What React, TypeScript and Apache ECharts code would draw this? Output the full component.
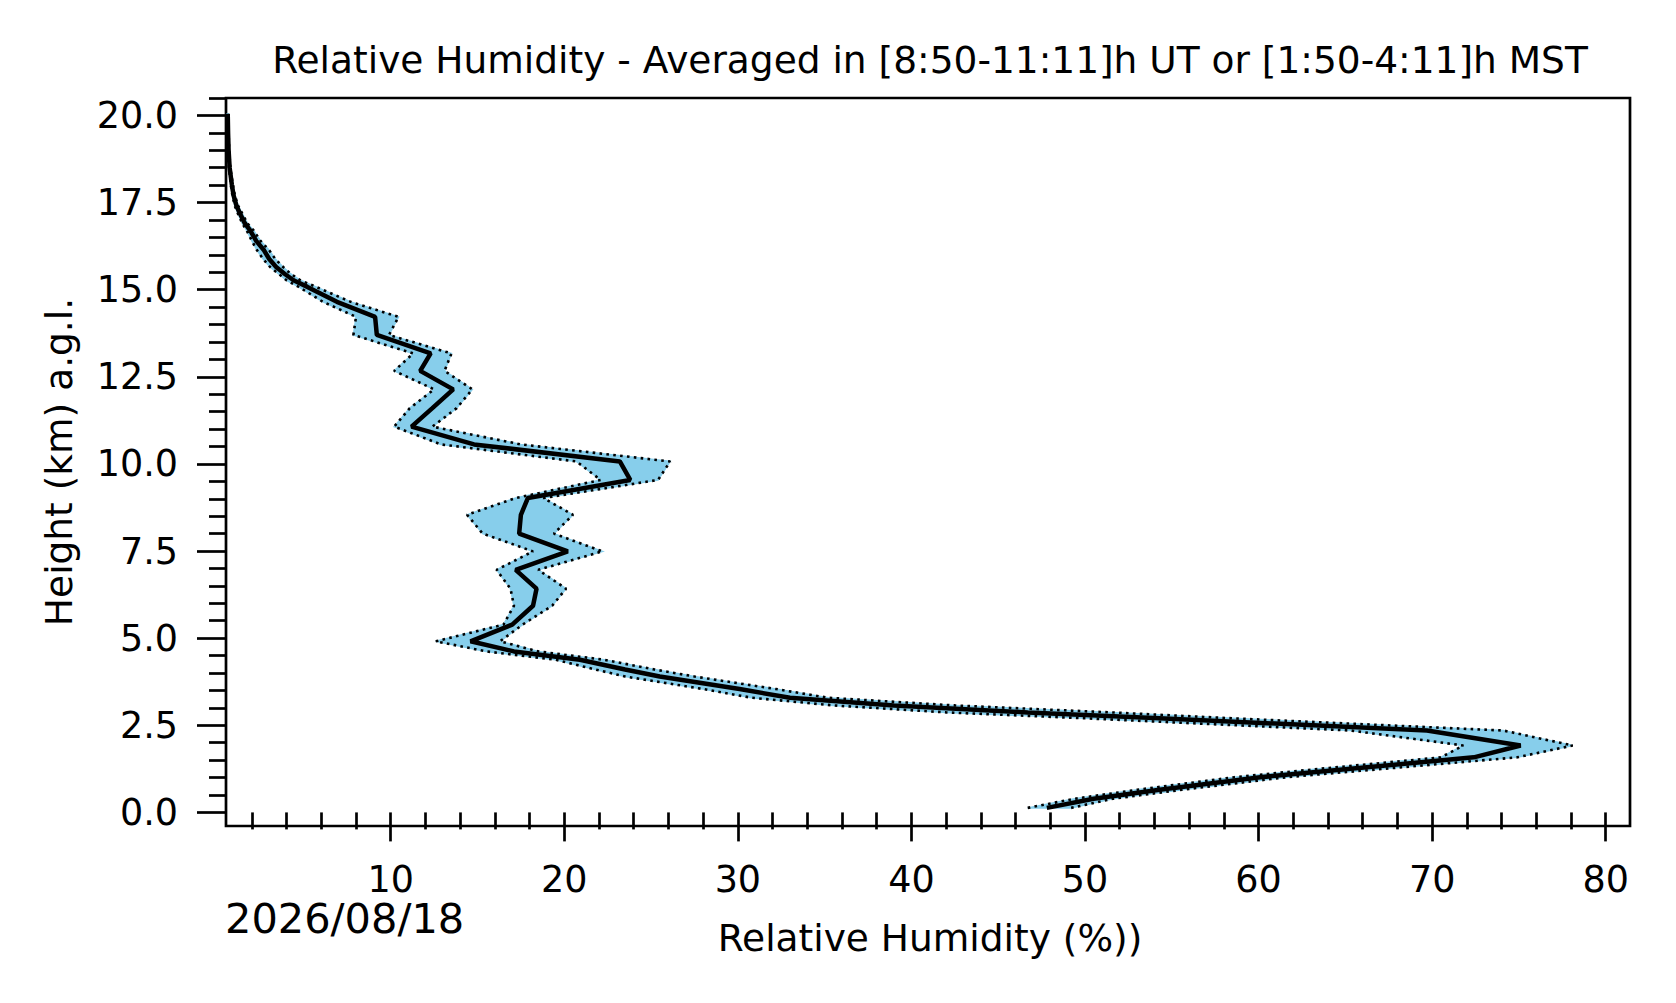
import React, { useEffect, useRef } from "react";
import * as echarts from "echarts";

// Height levels (km a.g.l.)
const heights = [
  0.13, 0.39, 0.65, 1.01, 1.25, 1.58, 1.92, 2.35, 2.7, 2.87, 3.07, 3.29, 3.54, 3.9, 4.1, 4.38, 4.62, 4.91,
  5.39, 5.93, 6.42, 6.96, 7.49, 8.0, 8.54, 9.02, 9.54, 10.07, 10.56, 11.07, 11.6, 12.14, 12.67, 13.17,
  13.7, 14.22, 14.65, 15.08, 15.27, 15.45, 15.65, 15.88, 16.13, 16.4, 16.7, 16.9, 17.18, 17.4, 17.7, 18.0,
  18.5, 19.0, 19.5, 20.05,
];
// Mean relative humidity (%)
const rhMean = [
  47.8, 50.5, 54.3, 60.1, 65.3, 72.4, 75.1, 69.7, 54.3, 46.7, 39.0, 33.0, 30.1, 25.5, 23.5, 20.9, 17.1, 14.6,
  17.0, 18.2, 18.4, 17.2, 20.2, 17.4, 17.5, 17.9, 23.8, 23.2, 14.8, 11.2, 12.4, 13.6, 11.7, 12.3,
  9.2, 9.1, 6.9, 5.2, 4.4, 3.9, 3.4, 3.0, 2.7, 2.25, 1.9, 1.6, 1.32, 1.12, 0.95, 0.85,
  0.72, 0.66, 0.63, 0.61,
];
// Lower edge of the spread band (%)
const rhLow = [
  46.7, 49.4, 53.0, 58.6, 63.5, 70.5, 71.8, 65.3, 50.0, 42.0, 35.5, 30.8, 28.0, 23.5, 21.8, 19.5, 15.5, 12.6,
  16.5, 17.1, 16.9, 16.1, 18.2, 15.3, 14.4, 17.2, 22.1, 20.7, 12.9, 10.2, 11.1, 12.5, 10.2, 11.3,
  7.85, 8.0, 6.1, 4.7, 4.0, 3.55, 3.05, 2.65, 2.3, 2.0, 1.7, 1.45, 1.2, 1.02, 0.88, 0.79,
  0.68, 0.63, 0.6, 0.58,
];
// Upper edge of the spread band (%)
const rhHigh = [
  49.2, 51.6, 55.6, 61.6, 67.2, 74.9, 78.1, 74.1, 58.5, 51.5, 42.5, 35.2, 32.2, 27.5, 25.2, 22.3, 18.5, 16.3,
  17.6, 19.3, 20.1, 18.5, 22.2, 19.4, 20.5, 18.8, 25.4, 26.1, 17.5, 12.4, 13.8, 14.7, 13.1, 13.5,
  9.9, 10.45, 7.7, 5.7, 4.8, 4.25, 3.8, 3.35, 3.0, 2.5, 2.1, 1.75, 1.45, 1.22, 1.02, 0.91,
  0.76, 0.69, 0.66, 0.64,
];

// Axis ticks
const xMajorTicks = [10, 20, 30, 40, 50, 60, 70, 80];
const xMinorTicks = [2, 4, 6, 8, 12, 14, 16, 18, 22, 24, 26, 28, 32, 34, 36, 38, 42, 44, 46, 48, 52, 54, 56, 58, 62, 64, 66, 68, 72, 74, 76, 78];
const yMajorTicks = [0, 2.5, 5, 7.5, 10, 12.5, 15, 17.5, 20];
const yMinorTicks = [
  0.5, 1, 1.5, 2, 3, 3.5, 4, 4.5, 5.5, 6, 6.5, 7, 8, 8.5, 9, 9.5, 10.5, 11, 11.5, 12, 13, 13.5, 14, 14.5,
  15.5, 16, 16.5, 17, 18, 18.5, 19, 19.5, 20.5,
];

const X_MIN = 0.51;
const X_MAX = 81.4;
const Y_MIN = -0.39;
const Y_MAX = 20.5;

const TITLE = "Relative Humidity - Averaged in [8:50-11:11]h UT or [1:50-4:11]h MST";
const X_NAME = "Relative Humidity (%))";
const Y_NAME = "Height (km) a.g.l.";
const DATE_TEXT = "2026/08/18";

const FONT = "DejaVu Sans";

export default function App() {
  const ref = useRef<HTMLDivElement>(null);

  useEffect(() => {
    if (!ref.current) return;
    const chart = echarts.init(ref.current, undefined, { renderer: "svg" });

    const meanData = heights.map((h, i) => [rhMean[i], h]);
    const lowData = heights.map((h, i) => [rhLow[i], h]);
    const highData = heights.map((h, i) => [rhHigh[i], h]);

    const tickStyle = { color: "#000", width: 2.7 };

    const option: any = {
      animation: false,
      backgroundColor: "#fff",
      grid: {
        left: 226,
        top: 98,
        right: 46,
        bottom: 177,
        show: true,
        borderColor: "#000",
        borderWidth: 2.7,
        backgroundColor: "transparent",
        outerBoundsMode: "none",
        containLabel: false,
      },
      xAxis: [
        {
          type: "value",
          min: X_MIN,
          max: X_MAX,
          position: "bottom",
          axisLine: { show: false },
          splitLine: { show: false },
          axisTick: { show: true, inside: false, length: 29, lineStyle: tickStyle, customValues: xMajorTicks },
          axisLabel: {
            show: true,
            customValues: xMajorTicks,
            fontSize: 36.5,
            fontFamily: FONT,
            color: "#000",
            margin: 35,
            formatter: (v: number) => String(v),
          },
        },
        {
          type: "value",
          min: X_MIN,
          max: X_MAX,
          position: "bottom",
          offset: 0,
          axisLine: { show: false },
          splitLine: { show: false },
          axisTick: { show: true, inside: false, length: 17, lineStyle: tickStyle, customValues: xMinorTicks },
          axisLabel: { show: false },
        },
      ],
      yAxis: [
        {
          type: "value",
          min: Y_MIN,
          max: Y_MAX,
          position: "left",
          axisLine: { show: false },
          splitLine: { show: false },
          axisTick: { show: true, inside: false, length: 29, lineStyle: tickStyle, customValues: yMajorTicks },
          axisLabel: {
            show: true,
            customValues: yMajorTicks,
            fontSize: 36.5,
            fontFamily: FONT,
            color: "#000",
            margin: 48,
            formatter: (v: number) => v.toFixed(1),
          },
        },
        {
          type: "value",
          min: Y_MIN,
          max: Y_MAX,
          position: "left",
          offset: 0,
          axisLine: { show: false },
          splitLine: { show: false },
          axisTick: { show: true, inside: false, length: 17, lineStyle: tickStyle, customValues: yMinorTicks },
          axisLabel: { show: false },
        },
      ],
      graphic: [
        {
          type: "text",
          x: 930,
          y: 60,
          style: {
            text: TITLE,
            fill: "#000",
            fontSize: 37.5,
            fontFamily: FONT,
            align: "center",
            textAlign: "center",
            verticalAlign: "middle",
            textVerticalAlign: "middle",
          },
        },
        {
          type: "text",
          x: 930,
          y: 938,
          style: {
            text: X_NAME,
            fill: "#000",
            fontSize: 37.5,
            fontFamily: FONT,
            align: "center",
            textAlign: "center",
            verticalAlign: "middle",
            textVerticalAlign: "middle",
          },
        },
        {
          type: "text",
          x: 59,
          y: 462,
          rotation: Math.PI / 2,
          style: {
            text: Y_NAME,
            fill: "#000",
            fontSize: 37.5,
            fontFamily: FONT,
            align: "center",
            textAlign: "center",
            verticalAlign: "middle",
            textVerticalAlign: "middle",
          },
        },
        {
          type: "text",
          x: 225,
          y: 918,
          style: {
            text: DATE_TEXT,
            fill: "#000",
            fontSize: 41.5,
            fontFamily: FONT,
            align: "left",
            textAlign: "left",
            verticalAlign: "middle",
            textVerticalAlign: "middle",
          },
        },
      ],
      series: [
        {
          type: "custom",
          name: "band",
          coordinateSystem: "cartesian2d",
          xAxisIndex: 0,
          yAxisIndex: 0,
          silent: true,
          z: 1,
          data: [[rhMean[0], heights[0]]],
          encode: { x: 0, y: 1 },
          renderItem: (_params: any, api: any) => {
            const pts: number[][] = [];
            for (let i = 0; i < heights.length; i++) pts.push(api.coord([rhLow[i], heights[i]]));
            for (let i = heights.length - 1; i >= 0; i--) pts.push(api.coord([rhHigh[i], heights[i]]));
            return {
              type: "polygon",
              shape: { points: pts },
              style: { fill: "#87CEEB", stroke: "#87CEEB", lineWidth: 1.5 },
            };
          },
        },
        {
          type: "line",
          name: "low",
          xAxisIndex: 0,
          yAxisIndex: 0,
          data: lowData,
          symbol: "none",
          showSymbol: false,
          silent: true,
          z: 2,
          lineStyle: { color: "#000", width: 2.6, type: [2.6, 4.3] },
        },
        {
          type: "line",
          name: "high",
          xAxisIndex: 0,
          yAxisIndex: 0,
          data: highData,
          symbol: "none",
          showSymbol: false,
          silent: true,
          z: 2,
          lineStyle: { color: "#000", width: 2.6, type: [2.6, 4.3] },
        },
        {
          type: "line",
          name: "mean",
          xAxisIndex: 0,
          yAxisIndex: 0,
          data: meanData,
          symbol: "none",
          showSymbol: false,
          silent: true,
          z: 3,
          lineStyle: { color: "#000", width: 4.5 },
        },
      ],
    };

    chart.setOption(option);
    return () => {
      chart.dispose();
    };
  }, []);

  return (
    <div
      ref={ref}
      style={{ position: "fixed", left: 0, top: 0, width: 1676, height: 1003, background: "#fff" }}
    />
  );
}
